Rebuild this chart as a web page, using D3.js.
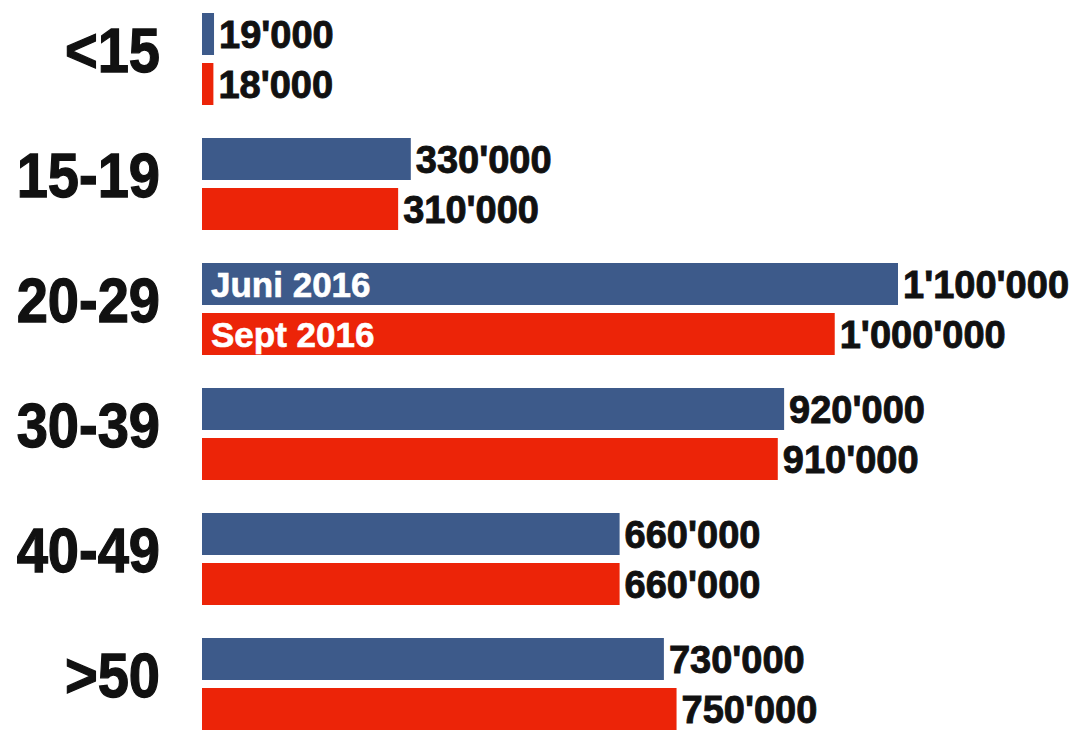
<!DOCTYPE html>
<html>
<head>
<meta charset="utf-8">
<script src="https://cdn.jsdelivr.net/npm/d3@7"></script>
<style>
  body { margin: 0; background: #fff; }
  svg { display: block; }
  text { font-family: "Liberation Sans", Arial, sans-serif; font-weight: bold; }
</style>
</head>
<body>
<svg id="chart"></svg>
<script>
var categories = ["<15", "15-19", "20-29", "30-39", "40-49", ">50"];
var series = ["Juni 2016", "Sept 2016"];
var juni = [19000, 330000, 1100000, 920000, 660000, 730000];
var sept = [18000, 310000, 1000000, 910000, 660000, 750000];
var colors = ["#3d5a8a", "#ec2408"];

var width = 1085,
    height = 736;

var svg = d3.select("#chart")
    .attr("width", width)
    .attr("height", height);

var fmt = d3.formatLocale({ decimal: ".", thousands: "'", grouping: [3], currency: ["", ""] }).format(",d");

var x = d3.scaleLinear()
    .domain([0, 1100000])
    .range([202, 898]);

var y0 = d3.scaleBand()
    .domain(categories)
    .range([13, 730])
    .paddingInner(0.264)
    .paddingOuter(0);

var y1 = d3.scaleBand()
    .domain(series)
    .range([0, y0.bandwidth()])
    .paddingInner(0.16);

var rows = categories.map(function (c, i) {
    return { cat: c, values: [juni[i], sept[i]] };
});

var group = svg.append("g")
    .selectAll("g")
    .data(rows)
    .enter().append("g")
    .attr("transform", function (d) {
        return "translate(0," + y0(d.cat) + ")";
    });

// category labels
group.append("text")
    .attr("x", 160)
    .attr("y", y0.bandwidth() / 2 + 13)
    .attr("text-anchor", "end")
    .attr("font-size", 63)
    .attr("transform", "translate(160,0) scale(0.89,1) translate(-160,0)")
    .attr("fill", "#111")
    .attr("stroke", "#111")
    .attr("stroke-width", 1.3)
    .text(function (d) { return d.cat; });

var bars = group.selectAll(".bar")
    .data(function (d) {
        return d.values.map(function (v, j) { return { s: series[j], v: v, j: j }; });
    })
    .enter().append("g")
    .attr("class", "bar");

bars.append("rect")
    .attr("x", x(0))
    .attr("y", function (d) { return y1(d.s); })
    .attr("width", function (d) { return x(d.v) - x(0); })
    .attr("height", y1.bandwidth())
    .attr("fill", function (d) { return colors[d.j]; });

bars.append("text")
    .attr("x", function (d) { return x(d.v) + 5; })
    .attr("y", function (d) { return y1(d.s) + y1.bandwidth() / 2; })
    .attr("dy", "0.36em")
    .attr("font-size", 38)
    .attr("fill", "#111")
    .attr("stroke", "#111")
    .attr("stroke-width", 0.9)
    .text(function (d) { return fmt(d.v); });

// series names inside the biggest group
var legendRow = "20-29";
svg.append("g")
    .selectAll("text")
    .data(series)
    .enter().append("text")
    .attr("x", x(0) + 9)
    .attr("y", function (s) { return y0(legendRow) + y1(s) + y1.bandwidth() / 2; })
    .attr("dy", "0.36em")
    .attr("font-size", 35)
    .attr("fill", "#fff")
    .attr("stroke", "#fff")
    .attr("stroke-width", 0.6)
    .text(function (s) { return s; });
</script>
</body>
</html>
